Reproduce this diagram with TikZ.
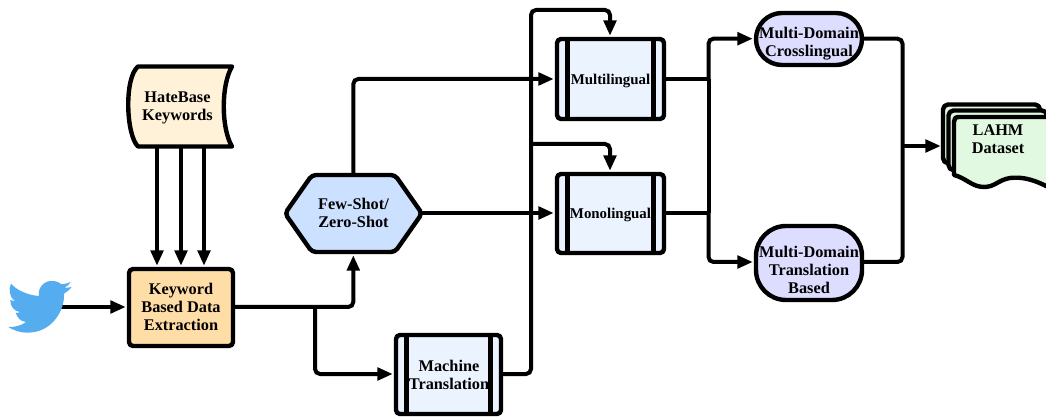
\documentclass[tikz,border=0pt]{standalone}
\usepackage{fontspec}
\setmainfont{Liberation Serif}
\usetikzlibrary{arrows.meta}
\definecolor{cKey}{HTML}{FFDDA6}
\definecolor{cHate}{HTML}{FFF2D9}
\definecolor{cProc}{HTML}{EBF3FF}
\definecolor{cHex}{HTML}{CCE0FF}
\definecolor{cPill}{HTML}{DDDDFF}
\definecolor{cData}{HTML}{E0F9E0}
\definecolor{cBird}{HTML}{55ACEE}
\tikzset{
  x=1pt,y=-1pt,
  shapeline/.style={draw=black,line width=4.4pt,line join=round},
  lab/.style={align=center,font=\fontsize{16.3}{18}\selectfont\bfseries,inner sep=0pt},
  lab15/.style={align=center,font=\fontsize{14.9}{18}\selectfont\bfseries,inner sep=0pt},
  conn/.style={draw=black,line width=4pt,rounded corners=5pt},
  arr/.style={conn,-{Triangle[length=15.5pt,width=12.5pt]}},
  anchorpt/.style={inner sep=0pt,minimum size=0pt},
}
\newcommand{\procbox}[4]{% x1 y1 x2 y2
  \draw[shapeline,fill=cProc,rounded corners=4pt] (#1,#2) rectangle (#3,#4);
  \draw[shapeline] (#1+10.5,#2) -- (#1+10.5,#4);
  \draw[shapeline] (#3-10.5,#2) -- (#3-10.5,#4);
}
\begin{document}
\begin{tikzpicture}
\useasboundingbox (0,0) rectangle (1046,419);
% connectors first
\node[anchorpt] (hbA) at (157,147) {};
\node[anchorpt] (hbB) at (181,147) {};
\node[anchorpt] (hbC) at (204,147) {};
\node[anchorpt] (keA) at (157,266) {};
\node[anchorpt] (keB) at (181,266) {};
\node[anchorpt] (keC) at (204,266) {};
\draw[arr] (hbA) -- (keA);
\draw[arr] (hbB) -- (keB);
\draw[arr] (hbC) -- (keC);
\node[anchorpt] (birdout) at (60,307) {};
\node[anchorpt] (keyW) at (126,307) {};
\node[anchorpt] (keyE) at (235,307) {};
\node[anchorpt] (hexS) at (353.3,255) {};
\node[anchorpt] (hexN) at (353.3,174) {};
\node[anchorpt] (hexE) at (422,213) {};
\node[anchorpt] (mtW) at (393,374) {};
\node[anchorpt] (mtE) at (503,374) {};
\node[anchorpt] (mlW) at (554,79) {};
\node[anchorpt] (mlN) at (610,36) {};
\node[anchorpt] (mlE) at (666,79) {};
\node[anchorpt] (moW) at (554,213) {};
\node[anchorpt] (moN) at (610,171) {};
\node[anchorpt] (moE) at (666,213) {};
\node[anchorpt] (cwW) at (753,38.7) {};
\node[anchorpt] (cwE) at (864,38.7) {};
\node[anchorpt] (trW) at (753,262) {};
\node[anchorpt] (trE) at (864,262) {};
\node[anchorpt] (dsW) at (941,146) {};
\coordinate (jA) at (315,307);
\coordinate (jB) at (531,144);
\coordinate (jT) at (531,10);
\coordinate (jC) at (708.5,79);
\coordinate (jD) at (708.5,213);
\coordinate (jE) at (902.5,146);
\draw[arr] (birdout) -- (keyW);
\draw[arr] (keyE) -| (hexS);
\draw[arr] (jA) |- (mtW);
\draw[arr] (hexN) |- (mlW);
\draw[arr] (hexE) -- (moW);
\draw[arr] (mtE) -| (jT) -| (mlN);
\draw[arr] (jB) -| (moN);
\draw[conn] (mlE) -- (jC);
\draw[conn] (moE) -- (jD);
\draw[conn] (jC) -- (jD);
\draw[arr] (jC) |- (cwW);
\draw[arr] (jD) |- (trW);
\draw[conn] (cwE) -| (jE);
\draw[conn] (trE) -| (jE);
\draw[arr] (jE) -- (dsW);
% Twitter bird
\begin{scope}[x=0.33333pt,y=-0.33333pt,yshift=-272pt]
\fill[cBird] (33,35) .. controls (50,55) and (85,70) .. (117,72)
  .. controls (112,45) and (135,25) .. (158,27)
  .. controls (170,27) and (178,32) .. (185,37)
  .. controls (195,36) and (205,33) .. (212,30)
  .. controls (208,38) and (200,44) .. (193,47)
  .. controls (200,47) and (208,47) .. (215,45)
  .. controls (208,54) and (200,60) .. (192,65)
  .. controls (195,110) and (160,183) .. (80,182)
  .. controls (60,182) and (40,175) .. (25,165)
  .. controls (45,166) and (65,160) .. (78,150)
  .. controls (62,148) and (52,138) .. (47,122)
  .. controls (50,123) and (55,123) .. (60,120)
  .. controls (42,118) and (30,102) .. (31,84)
  .. controls (35,86) and (40,88) .. (45,88)
  .. controls (28,75) and (25,52) .. (33,35) -- cycle;
\end{scope}
% HateBase stored data
\draw[shapeline,fill=cHate] (138,66.5) -- (232,66.5)
  .. controls (221,85) and (221,128) .. (232,146.5) -- (138,146.5)
  .. controls (126,135) and (124,78) .. (138,66.5) -- cycle;
\node[lab] (hate) at (177.5,107.5) {HateBase\\Keywords};
% Keyword box
\draw[shapeline,fill=cKey,rounded corners=4pt] (129,269) rectangle (233,346);
\node[lab] (key) at (181,307) {Keyword\\Based Data\\Extraction};
% Hexagon
\draw[shapeline,fill=cHex,rounded corners=4pt] (285,213.5) -- (312,175) -- (395,175) -- (422,213.5) -- (395,252) -- (312,252) -- cycle;
\node[lab] (hex) at (353.5,213) {Few-Shot/\\Zero-Shot};
% Processes
\procbox{396}{335}{501}{414}
\node[lab] (mt) at (449,374.5) {Machine\\Translation};
\procbox{557}{39}{664}{119}
\node[lab15] (ml) at (610.5,81) {Multilingual};
\procbox{557}{174}{664}{253}
\node[lab15] (mo) at (610.5,215) {Monolingual};
% Pills
\draw[shapeline,fill=cPill,rounded corners=26pt] (756,13) rectangle (862,65);
\node[lab] (cw) at (809,44) {Multi-Domain\\Crosslingual};
\draw[shapeline,fill=cPill,rounded corners=30pt] (756,226) rectangle (862,300);
\node[lab] (tr) at (809,270) {Multi-Domain\\Translation\\Based};
% Dataset
\begin{scope}
\clip (0,0) rectangle (1046,419);
\draw[shapeline,fill=cData,rounded corners=5pt] (943,163) -- (943,104.5) -- (1040,104.5) -- (1040,170) -- cycle;
\draw[shapeline,fill=cData,rounded corners=5pt] (948.5,170) -- (948.5,110.5) -- (1047,110.5) -- (1047,175) -- cycle;
\draw[shapeline,fill=cData] (954,175) -- (954,122) .. controls (954,119) and (955,117) .. (959,117) -- (1054,117) -- (1054,190) -- (1046,186)
  .. controls (1030,178) and (1020,177) .. (1010,178)
  .. controls (998,180) and (995,187) .. (984,187)
  .. controls (972,187) and (966,178) .. (954,175) -- cycle;
\end{scope}
\node[lab] (ds) at (998,139) {LAHM\\Dataset};
\end{tikzpicture}
\end{document}
